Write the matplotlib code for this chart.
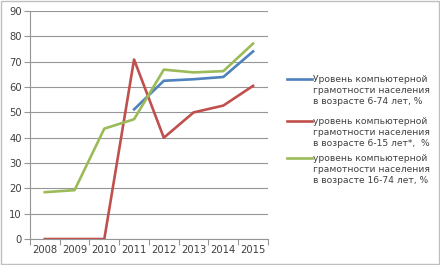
import matplotlib
matplotlib.use("Agg")
import matplotlib.pyplot as plt
from matplotlib.lines import Line2D
import numpy as np

years = ["2008", "2009", "2010", "2011", "2012", "2013", "2014", "2015"]
blue_vals = [np.nan, np.nan, np.nan, 51.2, 62.5, 63.1, 64.0, 74.1]
red_vals = [0, 0, 0, 70.9, 40.0, 50.0, 52.7, 60.5]
green_vals = [18.5, 19.3, 43.6, 47.3, 66.9, 65.8, 66.3, 77.2]
labels = [
    "Уровень компьютерной\nграмотности населения\nв возрасте 6-74 лет, %",
    "уровень компьютерной\nграмотности населения\nв возрасте 6-15 лет*,  %",
    "уровень компьютерной\nграмотности населения\nв возрасте 16-74 лет, %",
]
colors = ["#4F81BD", "#C0504D", "#9BBB59"]

plt.rcParams['font.family'] = ['DejaVu Sans']
fig = plt.figure(figsize=(4.4, 2.65), dpi=100)
fig.patch.set_facecolor("white")
# outer border
fig.add_artist(plt.Rectangle((0.002, 0.004), 0.995, 0.992, transform=fig.transFigure,
                             fill=False, edgecolor="#BFBFBF", linewidth=1.0))

ax = fig.add_axes([0.068, 0.098, 0.541, 0.860])
x = np.arange(len(years))
for vals, c in zip([blue_vals, red_vals, green_vals], colors):
    ax.plot(x, vals, color=c, linewidth=1.9, solid_joinstyle="round")

ax.set_xlim(-0.5, len(years) - 0.5)
ax.set_ylim(0, 90)
ax.set_yticks(np.arange(0, 91, 10))
ax.set_xticks(x)
ax.set_xticklabels(years)
ax.set_xticks(np.arange(-0.5, len(years), 1), minor=True)
ax.tick_params(axis="x", which="major", length=0, labelsize=7.2, colors="#404040", pad=4)
ax.tick_params(axis="x", which="minor", length=4, color="#969696", width=0.8)
ax.tick_params(axis="y", length=4, color="#969696", width=0.8, labelsize=7.2, colors="#404040", pad=2)
ax.yaxis.grid(True, color="#969696", linewidth=0.8)
ax.set_axisbelow(True)
for s in ["top", "right"]:
    ax.spines[s].set_visible(False)
for s in ["left", "bottom"]:
    ax.spines[s].set_color("#969696")
    ax.spines[s].set_linewidth(0.8)

# legend
ys = [79, 121, 158]
for lab, c, yy in zip(labels, colors, ys):
    yf = 1 - yy / 265
    fig.add_artist(Line2D([287 / 440, 312 / 440], [yf, yf], transform=fig.transFigure,
                          color=c, linewidth=1.9))
    fig.text(313 / 440, yf + 4.0 / 265, lab, ha="left", va="top", fontsize=6.6,
             color="#404040", linespacing=1.32)

fig.savefig("out.png", dpi=100)
